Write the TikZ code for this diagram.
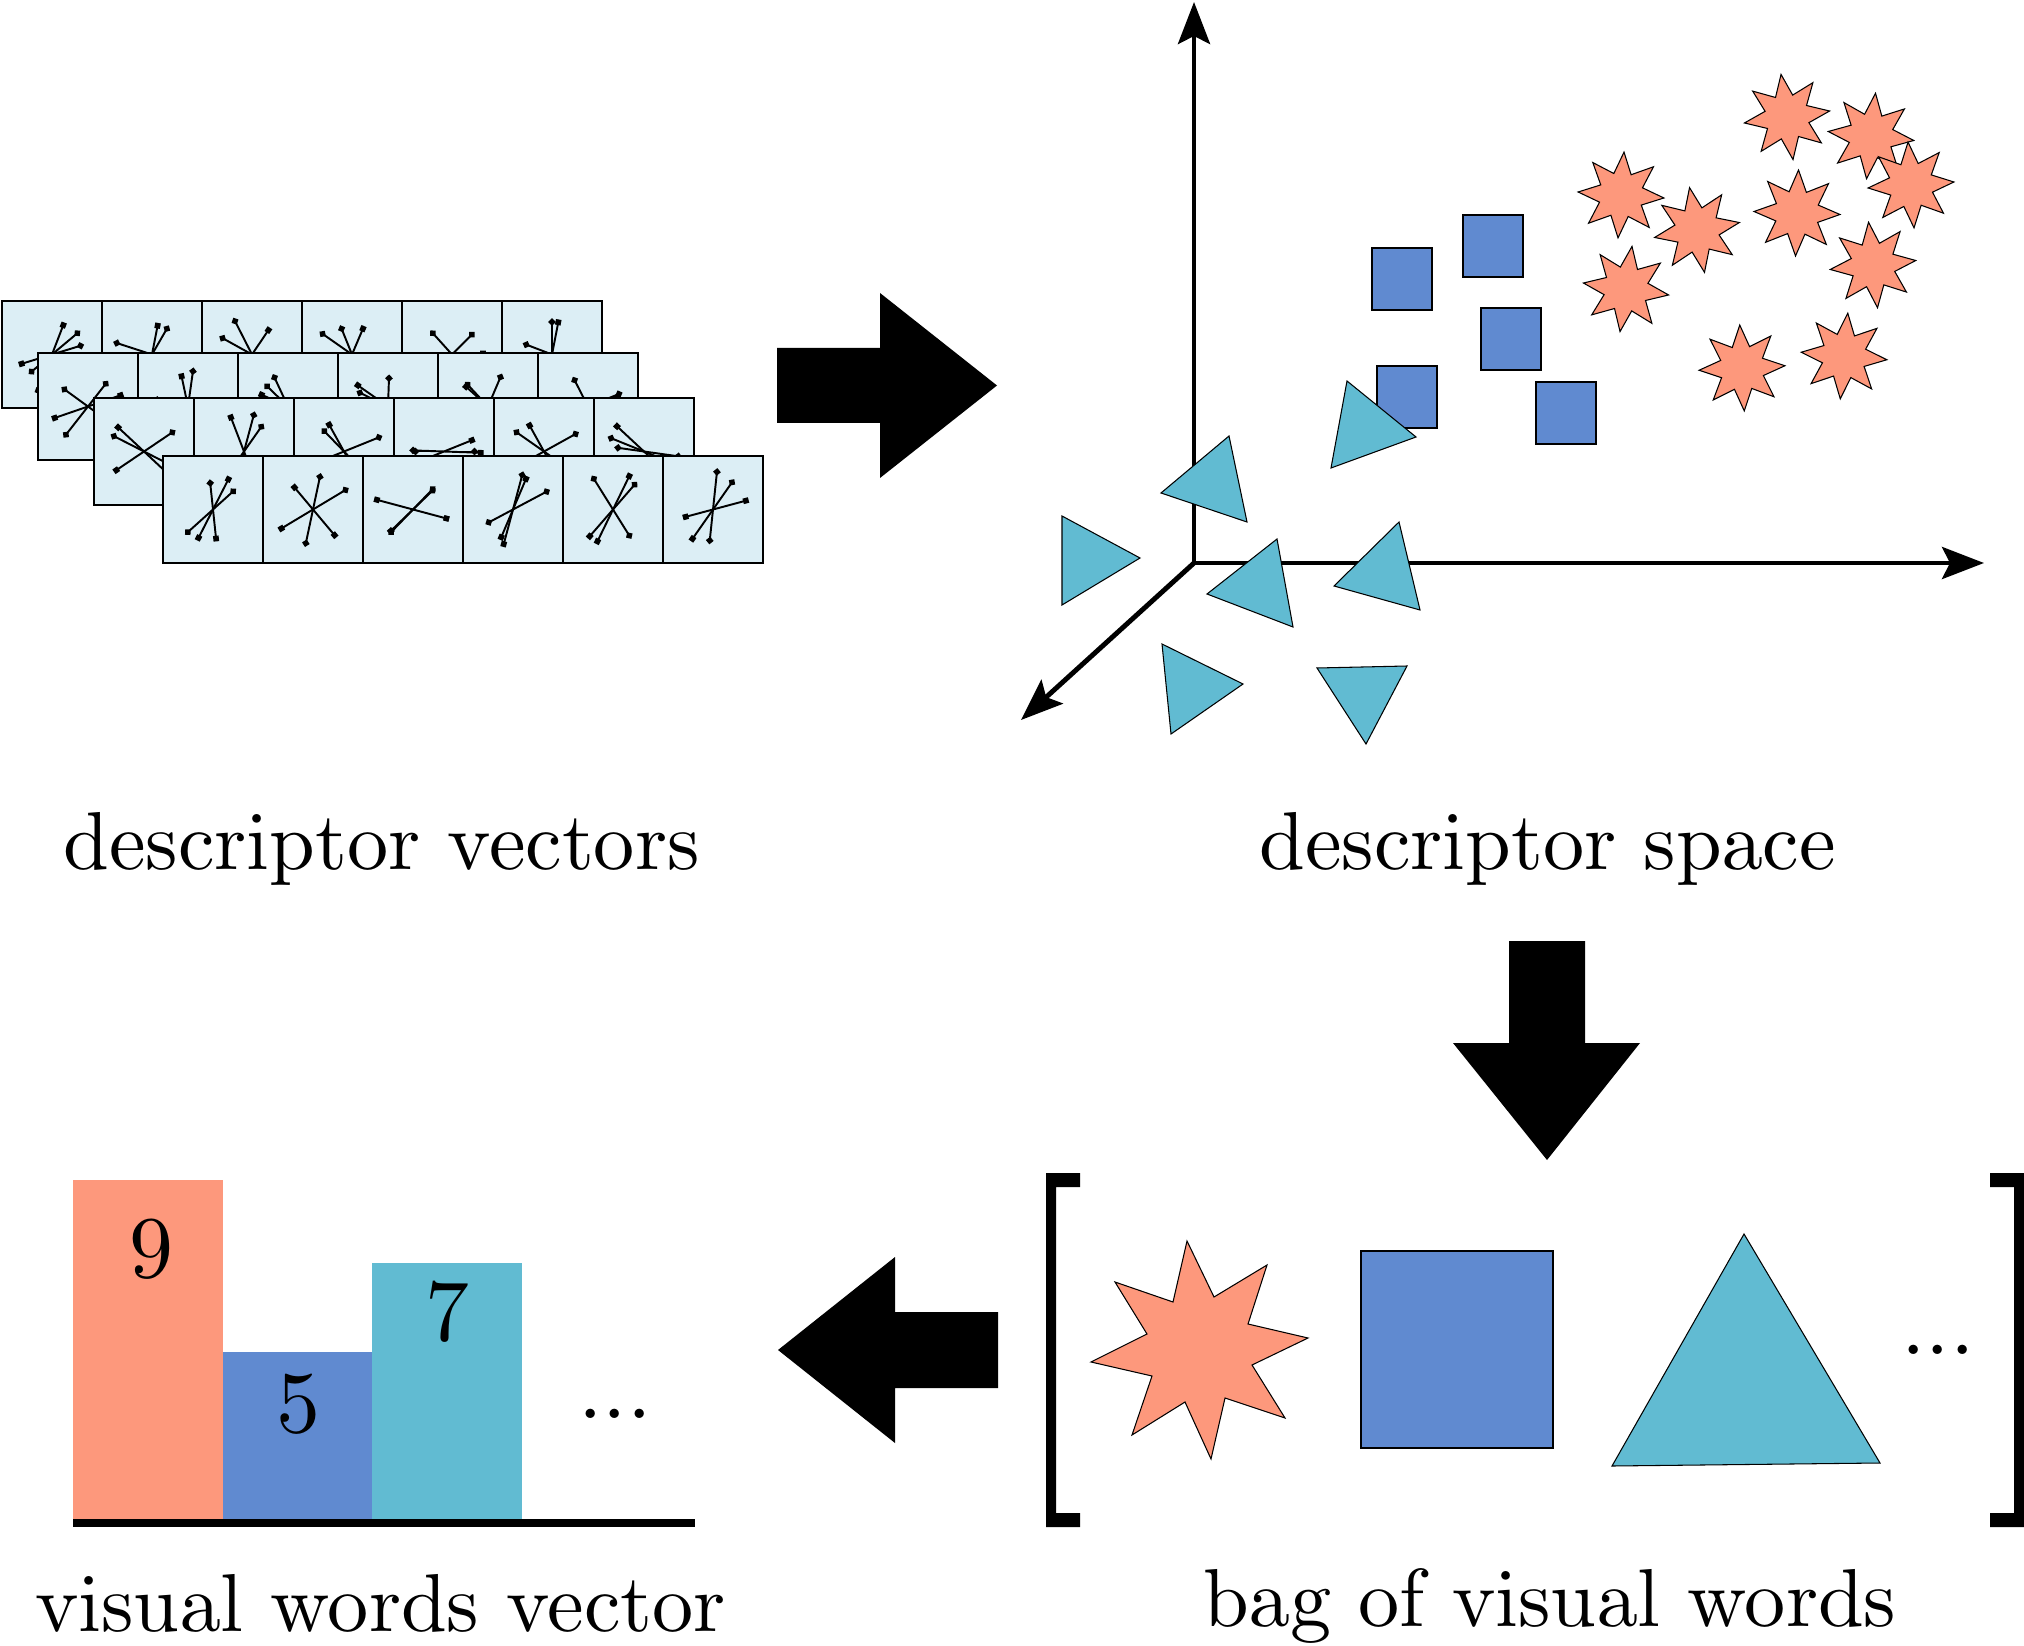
\documentclass[tikz,border=0pt]{standalone}
\usepackage{tikz}
\usetikzlibrary{shapes.geometric}
\usetikzlibrary{arrows.meta}

\definecolor{salmon}{RGB}{253,152,124}
\definecolor{wordblue}{RGB}{96,138,208}
\definecolor{wordcyan}{RGB}{97,187,210}
\definecolor{cellblue}{RGB}{220,238,245}
\font\captionrm=cmr10 at 23.4pt
\font\countrm=cmr10 at 25pt

\begin{document}
\begin{tikzpicture}[x=1cm, y=-1cm,
  cell/.style={draw, line width=0.6pt, fill=cellblue, minimum width=1cm, minimum height=1.07cm, inner sep=0pt},
  ray1/.style={line width=0.55pt, {Square[length=1.6pt,width=1.6pt]}-{Square[length=1.6pt,width=1.6pt]}},
  ray2/.style={line width=0.55pt, {Turned Square[length=2.2pt,width=2.2pt]}-{Turned Square[length=2.2pt,width=2.2pt]}},
  ray3/.style={line width=0.55pt, {Square[length=1.6pt,width=1.6pt]}-{Turned Square[length=2.2pt,width=2.2pt]}},
  starword/.style={star, star points=8, star point ratio=1.9, minimum size=0.86cm, inner sep=0pt, draw, line width=0.3pt, fill=salmon},
  sqword/.style={draw, line width=0.3pt, fill=wordblue, minimum width=0.6cm, minimum height=0.62cm, inner sep=0pt},
  triword/.style={draw, line width=0.3pt, fill=wordcyan},
  axis/.style={line width=1.4pt, -{Stealth[length=0.42cm, width=0.32cm, inset=0.08cm]}},
  wordlabel/.style={font=\captionrm, anchor=base, inner sep=0pt},
  numlabel/.style={font=\countrm, anchor=base, inner sep=0pt}
]
\useasboundingbox (0,0) rectangle (20.24,16.46);

\pgfmathsetseed{11}
\foreach \r/\x/\y in {1/0.02/3.01, 2/0.38/3.53, 3/0.94/3.98, 4/1.63/4.56} {
  \foreach \k in {0,...,5} {
    \node[cell] (c\r\k) at (\x+\k+0.5,\y+0.535) {};
    \foreach \j in {1,2,3} {
      \pgfmathsetmacro\ang{random(0,179)}
      \pgfmathsetmacro\la{0.3+0.12*rnd}
      \pgfmathsetmacro\lb{0.3+0.12*rnd}
      \draw[ray\j] ([shift={(\ang:\la)}]c\r\k.center) -- ([shift={(\ang+180:\lb)}]c\r\k.center);
    }
  }
}
\node[wordlabel] (vectors) at (3.82,8.69) {descriptor vectors};

\fill (7.77,3.48) -- (8.80,3.48) -- (8.80,2.93) -- (9.97,3.855) -- (8.80,4.78) -- (8.80,4.23) -- (7.77,4.23) -- cycle;

\coordinate (origin) at (11.94,5.63);
\draw[axis] (origin) -- (11.94,0.02);
\draw[axis] (origin) -- (19.84,5.63);
\draw[axis] (origin) -- (10.21,7.20);

\foreach \x/\y [count=\i] in {14.02/2.79, 14.93/2.46, 15.11/3.39, 14.07/3.97, 15.66/4.13} {
  \node[sqword] (q\i) at (\x,\y) {};
}
\foreach \x/\y/\rot [count=\i] in {17.87/1.17/8, 18.71/1.36/-6, 19.11/1.85/4, 16.21/1.95/-4, 16.97/2.30/10, 17.97/2.13/-2, 18.73/2.65/6, 16.26/2.89/-8, 17.42/3.68/3, 18.44/3.56/-5} {
  \node[starword, rotate=\rot] (s\i) at (\x,\y) {};
}
\filldraw[triword] (13.47,3.81) -- (14.16,4.37) -- (13.31,4.68) -- cycle;
\filldraw[triword] (12.29,4.36) -- (12.47,5.22) -- (11.61,4.93) -- cycle;
\filldraw[triword] (10.62,5.16) -- (11.40,5.58) -- (10.62,6.05) -- cycle;
\filldraw[triword] (12.77,5.39) -- (12.93,6.27) -- (12.07,5.94) -- cycle;
\filldraw[triword] (13.99,5.22) -- (14.20,6.10) -- (13.34,5.86) -- cycle;
\filldraw[triword] (11.62,6.44) -- (12.43,6.84) -- (11.71,7.34) -- cycle;
\filldraw[triword] (13.17,6.68) -- (14.07,6.66) -- (13.66,7.44) -- cycle;
\node[wordlabel] (space) at (15.48,8.69) {descriptor space};

\fill (15.09,9.41) -- (15.85,9.41) -- (15.85,10.43) -- (16.40,10.43) -- (15.47,11.60) -- (14.53,10.43) -- (15.09,10.43) -- cycle;

\fill (10.46,11.73) -- (10.80,11.73) -- (10.80,11.87) -- (10.56,11.87) -- (10.56,15.13) -- (10.80,15.13) -- (10.80,15.27) -- (10.46,15.27) -- cycle;
\fill (20.24,11.73) -- (19.90,11.73) -- (19.90,11.87) -- (20.14,11.87) -- (20.14,15.13) -- (19.90,15.13) -- (19.90,15.27) -- (20.24,15.27) -- cycle;
\filldraw[draw, line width=0.3pt, fill=salmon] (11.87,12.41) -- (12.14,12.97) -- (12.67,12.65) -- (12.48,13.24) -- (13.08,13.38) -- (12.52,13.65) -- (12.85,14.18) -- (12.25,13.98) -- (12.11,14.59) -- (11.85,14.02) -- (11.32,14.35) -- (11.52,13.76) -- (10.91,13.62) -- (11.47,13.34) -- (11.15,12.82) -- (11.73,13.02) -- cycle;
\filldraw[draw, line width=0.3pt, fill=wordblue] (13.61,12.51) rectangle (15.53,14.48);
\filldraw[triword] (17.44,12.34) -- (18.80,14.63) -- (16.12,14.66) -- cycle;
\node[numlabel] (bagdots) at (19.38,13.54) {...};
\node[wordlabel] (bag) at (15.50,16.26) {bag of visual words};

\fill (9.98,13.12) -- (8.95,13.12) -- (8.95,12.57) -- (7.78,13.50) -- (8.95,14.43) -- (8.95,13.88) -- (9.98,13.88) -- cycle;

\foreach \x/\h/\col in {0.73/11.80/salmon, 2.23/13.52/wordblue, 3.72/12.63/wordcyan} {
  \fill[\col] (\x,\h) rectangle (\x+1.50,15.22);
}
\draw[line width=2pt] (0.73,15.23) -- (6.95,15.23);
\node[numlabel] (nine) at (1.51,12.77) {9};
\node[numlabel] (five) at (2.98,14.32) {5};
\node[numlabel] (seven) at (4.47,13.40) {7};
\node[numlabel] (bardots) at (6.15,14.18) {...};
\node[wordlabel] (histo) at (3.81,16.31) {visual words vector};

\end{tikzpicture}
\end{document}
